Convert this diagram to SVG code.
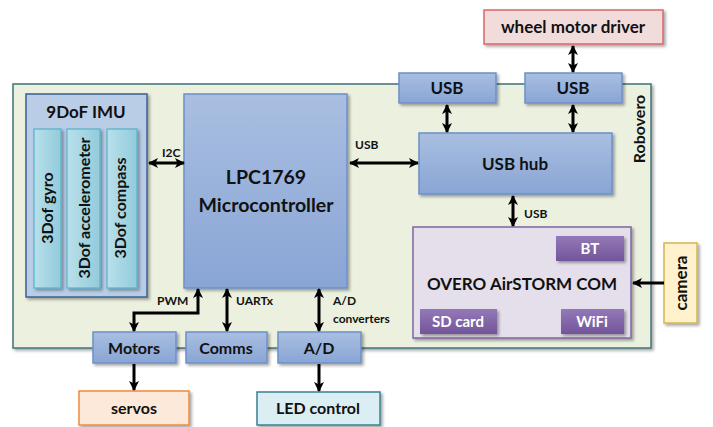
<svg xmlns="http://www.w3.org/2000/svg" width="713" height="427" viewBox="0 0 713 427">
<defs>
<linearGradient id="gBlue" x1="0" y1="0" x2="0" y2="1"><stop offset="0" stop-color="#a9bfe1"/><stop offset="1" stop-color="#89a5d5"/></linearGradient>
<linearGradient id="gTeal" x1="0" y1="0" x2="1" y2="0"><stop offset="0" stop-color="#b9e0ea"/><stop offset="1" stop-color="#92cbdb"/></linearGradient>
<linearGradient id="gPurple" x1="0" y1="0" x2="0" y2="1"><stop offset="0" stop-color="#9479b8"/><stop offset="1" stop-color="#72559a"/></linearGradient>
<filter id="sh" x="-10%" y="-10%" width="130%" height="130%"><feDropShadow dx="2" dy="2" stdDeviation="1.5" flood-color="#000" flood-opacity="0.35"/></filter>
<marker id="ah" viewBox="0 0 10 10" refX="9" refY="5" markerWidth="10" markerHeight="10" markerUnits="userSpaceOnUse" orient="auto-start-reverse"><path d="M0,0 L10,5 L0,10 L2.5,5 Z" fill="#000"/></marker>
<style>
.t{font-family:"Lato","Liberation Sans",sans-serif;font-weight:bold;fill:#111;text-anchor:middle}
.blue{fill:url(#gBlue);stroke:#6d90c8;stroke-width:1.5;filter:url(#sh)}
.bar{fill:url(#gTeal);stroke:#55b3cb;stroke-width:1.2;filter:url(#sh)}
.pur{fill:url(#gPurple);filter:url(#sh)}
.wt{font-family:"Lato","Liberation Sans",sans-serif;font-weight:bold;fill:#fff;text-anchor:middle;font-size:15px}
.sm{font-family:"Lato","Liberation Sans",sans-serif;font-weight:bold;fill:#111;font-size:12px}
.c{fill:none;stroke:#000;stroke-width:3}
</style>
</defs>
<rect width="713" height="427" fill="#fff"/>
<g id="robovero">
<rect x="13" y="84" width="638" height="264" fill="#ebf0df" stroke="#3f7479" stroke-width="1.5" filter="url(#sh)"/>
<text class="t" font-size="16" transform="translate(645,129) rotate(-90)">Robovero</text>
</g>
<g id="imu">
<rect x="26" y="94" width="121" height="203" fill="#b9cde6" stroke="#3b5f93" stroke-width="1.5" filter="url(#sh)"/>
<text class="t" x="86" y="118" font-size="17">9DoF IMU</text>
</g>
<g id="gyro"><rect class="bar" x="34" y="129" width="27" height="159"/><text class="t" font-size="16" transform="translate(53,208) rotate(-90)">3Dof gyro</text></g>
<g id="accel"><rect class="bar" x="67" y="129" width="33" height="159"/><text class="t" font-size="16" transform="translate(90,208) rotate(-90)">3Dof accelerometer</text></g>
<g id="compass"><rect class="bar" x="107" y="129" width="30" height="159"/><text class="t" font-size="16" transform="translate(126,208) rotate(-90)">3Dof compass</text></g>
<g id="lpc">
<rect class="blue" x="184" y="94" width="163" height="194"/>
<text class="t" x="266" y="184" font-size="19.5">LPC1769</text>
<text class="t" x="266" y="212" font-size="19.5">Microcontroller</text>
</g>
<g id="wheel"><rect x="484" y="10" width="179" height="34" fill="#f2dcdb" stroke="#d9676a" stroke-width="1.5" filter="url(#sh)"/><text class="t" x="573" y="33" font-size="17">wheel motor driver</text></g>
<g id="usb1"><rect class="blue" x="399" y="73" width="97" height="30"/><text class="t" x="447" y="94" font-size="17">USB</text></g>
<g id="usb2"><rect class="blue" x="525" y="73" width="97" height="30"/><text class="t" x="573" y="94" font-size="17">USB</text></g>
<g id="hub"><rect class="blue" x="419" y="133" width="193" height="61"/><text class="t" x="515" y="170" font-size="17">USB hub</text></g>
<g id="overo">
<rect x="413" y="227" width="218" height="111" fill="#e5dfec" stroke="#7f66a3" stroke-width="1.5" filter="url(#sh)"/>
<text class="t" x="522" y="290" font-size="17">OVERO AirSTORM COM</text>
</g>
<g id="bt"><rect class="pur" x="556" y="236" width="68" height="25"/><text class="wt" x="590" y="254">BT</text></g>
<g id="sd"><rect class="pur" x="420" y="309" width="77" height="25"/><text class="wt" x="458" y="327">SD card</text></g>
<g id="wifi"><rect class="pur" x="561" y="309" width="63" height="25"/><text class="wt" x="592" y="327">WiFi</text></g>
<g id="camera"><rect x="664" y="243" width="33" height="80" fill="#fff2cc" stroke="#d9b44a" stroke-width="1.5" filter="url(#sh)"/><text class="t" font-size="17" transform="translate(687,283) rotate(-90)">camera</text></g>
<g id="motors"><rect class="blue" x="93" y="332" width="83" height="31"/><text class="t" x="134" y="354" font-size="16">Motors</text></g>
<g id="comms"><rect class="blue" x="186" y="332" width="81" height="31"/><text class="t" x="226" y="354" font-size="16">Comms</text></g>
<g id="ad"><rect class="blue" x="278" y="332" width="83" height="31"/><text class="t" x="319" y="354" font-size="16">A/D</text></g>
<g id="servos"><rect x="79" y="391" width="110" height="34" fill="#fde9d9" stroke="#f08a3e" stroke-width="1.5" filter="url(#sh)"/><text class="t" x="134" y="414" font-size="16">servos</text></g>
<g id="led"><rect x="257" y="392" width="123" height="33" fill="#dbeef3" stroke="#3e8092" stroke-width="1.5" filter="url(#sh)"/><text class="t" x="318" y="414" font-size="16">LED control</text></g>
<g id="connectors">
<line class="c" x1="149" y1="163" x2="184" y2="163" marker-start="url(#ah)" marker-end="url(#ah)"/>
<line class="c" x1="350" y1="163" x2="418" y2="163" marker-start="url(#ah)" marker-end="url(#ah)"/>
<line class="c" x1="573" y1="46" x2="573" y2="72" marker-start="url(#ah)" marker-end="url(#ah)"/>
<line class="c" x1="447" y1="105" x2="447" y2="132" marker-start="url(#ah)" marker-end="url(#ah)"/>
<line class="c" x1="573" y1="105" x2="573" y2="132" marker-start="url(#ah)" marker-end="url(#ah)"/>
<line class="c" x1="513" y1="196" x2="513" y2="226" marker-start="url(#ah)" marker-end="url(#ah)"/>
<line class="c" x1="664" y1="283" x2="633" y2="283" marker-end="url(#ah)"/>
<polyline class="c" points="198,289 198,313 134,313 134,331" marker-start="url(#ah)" marker-end="url(#ah)"/>
<line class="c" x1="227" y1="289" x2="227" y2="331" marker-start="url(#ah)" marker-end="url(#ah)"/>
<line class="c" x1="319" y1="289" x2="319" y2="331" marker-start="url(#ah)" marker-end="url(#ah)"/>
<line class="c" x1="134" y1="364" x2="134" y2="390" marker-end="url(#ah)"/>
<line class="c" x1="319" y1="364" x2="319" y2="391" marker-end="url(#ah)"/>
<text class="sm" x="162" y="157">I2C</text>
<text class="sm" x="355" y="149">USB</text>
<text class="sm" x="524" y="218">USB</text>
<text class="sm" x="157" y="305">PWM</text>
<text class="sm" x="236" y="305">UARTx</text>
<text class="sm" x="333" y="305">A/D</text>
<text class="sm" x="333" y="323">converters</text>
</g>
</svg>
